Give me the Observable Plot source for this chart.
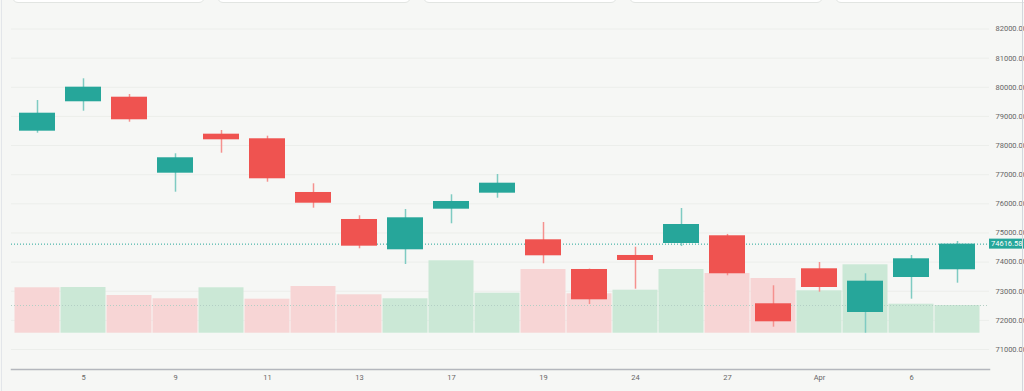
<!DOCTYPE html>
<html><head><meta charset="utf-8">
<script src="https://cdn.jsdelivr.net/npm/d3@7"></script>
<script src="https://cdn.jsdelivr.net/npm/@observablehq/plot@0.6"></script>
<style>
html,body{margin:0;padding:0;background:#f6f7f5;overflow:hidden}
#wrap{position:relative;width:1024px;height:391px;background:#f6f7f5;overflow:hidden}
#wrap svg{position:absolute;left:0;top:0}
.card{position:absolute;top:-30px;height:33px;background:#fff;border:1px solid #e2e5e2;border-radius:6px;box-sizing:border-box}
.vline{position:absolute;top:0;width:1px;height:391px}
</style></head><body><div id="wrap"></div>
<script>
// ---- data ----
const dates = ["Mar 4","Mar 5","Mar 7","Mar 9","Mar 10","Mar 11","Mar 12","Mar 13","Mar 14","Mar 17","Mar 18",
               "Mar 19","Mar 21","Mar 24","Mar 25","Mar 27","Mar 28","Apr 1","Apr 3","Apr 6","Apr 7"];
const opens  = [78493,79502,79659,77051,78390,78232,76389,75462,74422,75816,76365,74765,73746,74227,74638,74903,72569,73770,72270,73471,73736];
const highs  = [79546,80291,79752,77717,78517,78321,76687,75589,75805,76310,77006,75359,73760,74511,75840,74950,73187,73986,73599,74227,74707];
const lows   = [78424,79179,78801,76399,77737,76742,75850,74456,73918,75315,76193,73942,72545,73070,74535,73530,71766,72967,71560,72727,73276];
const closes = [79110,80003,78884,77580,78197,76859,76021,74546,75520,76080,76708,74216,72706,74055,75290,73599,71951,73128,73345,74113,74616.58];
const volumes = [45.4,45.7,37.7,34.4,45.4,34.0,46.7,38.4,34.4,72.4,40.0,63.7,39.4,43.0,63.7,59.7,54.7,42.4,68.4,29.0,27.7];
const tickDates  = ["Mar 5","Mar 9","Mar 11","Mar 13","Mar 17","Mar 19","Mar 24","Mar 27","Apr 1","Apr 6"];
const tickLabels = ["5","9","11","13","17","19","24","27","Apr","6"];
const priceTicks = d3.range(71000, 83000, 1000);

const UP = "#26a69a", DOWN = "#ef5350";
const UP_WICK = "#7fcbc2", DOWN_WICK = "#f5918f";
const VOL_UP = "#cbe8d6", VOL_DOWN = "#f7d5d5";

const data = dates.map((d, i) => ({
  date: d, open: opens[i], high: highs[i], low: lows[i], close: closes[i], volume: volumes[i],
  up: closes[i] >= opens[i],
  volUp: i > 0 && closes[i] >= closes[i - 1]
}));
const lastClose = closes[closes.length - 1];
const labelOf = new Map(tickDates.map((d, i) => [d, tickLabels[i]]));

const wrap = document.getElementById("wrap");
// top cards (toolbar, cut off)
[[12,193],[217,194],[423,194],[629,194],[835,200]].forEach(([l,w]) => {
  const c = document.createElement("div"); c.className = "card";
  c.style.left = l + "px"; c.style.width = w + "px"; wrap.appendChild(c);
});

const common = {
  width: 1024, height: 391, marginLeft: 11, marginRight: 35, marginTop: 4, marginBottom: 22,
  style: {background: "transparent", fontFamily: "Roboto, 'Noto Sans', sans-serif", fontSize: "7.5px", color: "#555", overflow: "visible"}
};
const xScale = {type: "band", domain: dates, range: [3.5, 989.5], padding: 0};

// layer 1: grid + axes
const basePlot = Plot.plot({
  ...common,
  x: {...xScale},
  y: {domain: [71000, 82000], range: [349, 28.5]},
  marks: [
    Plot.gridY(priceTicks, {stroke: "#eceeeb", strokeOpacity: 1}),
    Plot.frame({anchor: "bottom", stroke: "#b4b7bd", strokeWidth: 1.5}),
    Plot.axisX(tickDates, {tickSize: 0, tickPadding: 5, tickFormat: d => labelOf.get(d), fontSize: 7.5, fill: "#666", label: null}),
    Plot.axisY(priceTicks, {anchor: "right", tickSize: 0, tickPadding: 6, tickFormat: d3.format(".2f"), fontSize: 7.5, fill: "#666", label: null})
  ]
});
wrap.appendChild(basePlot);

// layer 2: volume
const volPlot = Plot.plot({
  ...common,
  x: {...xScale, axis: null},
  y: {domain: [0, 80], range: [332.7, 252.7], axis: null},
  marks: [
    Plot.barY(data, {x: "date", y: "volume", fill: d => d.volUp ? VOL_UP : VOL_DOWN, insetLeft: 0.5, insetRight: 0.5, clip: true}),
    Plot.ruleY([volumes[volumes.length - 1]], {stroke: "#b3cfc5", strokeDasharray: "1,2", strokeWidth: 1})
  ]
});
wrap.appendChild(volPlot);

// layer 3: candles
const candlePlot = Plot.plot({
  ...common,
  x: {...xScale, axis: null},
  y: {domain: [71000, 82000], range: [349, 28.5], axis: null},
  marks: [
    Plot.ruleY([lastClose], {stroke: UP, strokeDasharray: "1,2", strokeWidth: 1}),
    Plot.ruleX(data, {x: "date", y1: "low", y2: "high", stroke: d => d.up ? UP_WICK : DOWN_WICK, strokeWidth: 1.5, clip: true}),
    Plot.barY(data, {x: "date", y1: "open", y2: "close", fill: d => d.up ? UP : DOWN, insetLeft: 5, insetRight: 5, clip: true})
  ]
});
wrap.appendChild(candlePlot);
const yy = candlePlot.scale("y").apply(lastClose);
const sel = d3.select(candlePlot);
sel.append("rect").attr("x", 989).attr("y", yy - 5).attr("width", 40).attr("height", 10).attr("fill", UP);
sel.append("text").attr("x", 991).attr("y", yy).attr("dy", "0.35em").attr("fill", "#fff")
  .attr("text-anchor", "start").attr("font-size", 7.5).text(d3.format(".2f")(lastClose));

// borders
[[1,"#e3e6ea"],[1022,"#d3d6dc"]].forEach(([l,c]) => {
  const v = document.createElement("div"); v.className = "vline";
  v.style.left = l + "px"; v.style.background = c; wrap.appendChild(v);
});
</script></body></html>
